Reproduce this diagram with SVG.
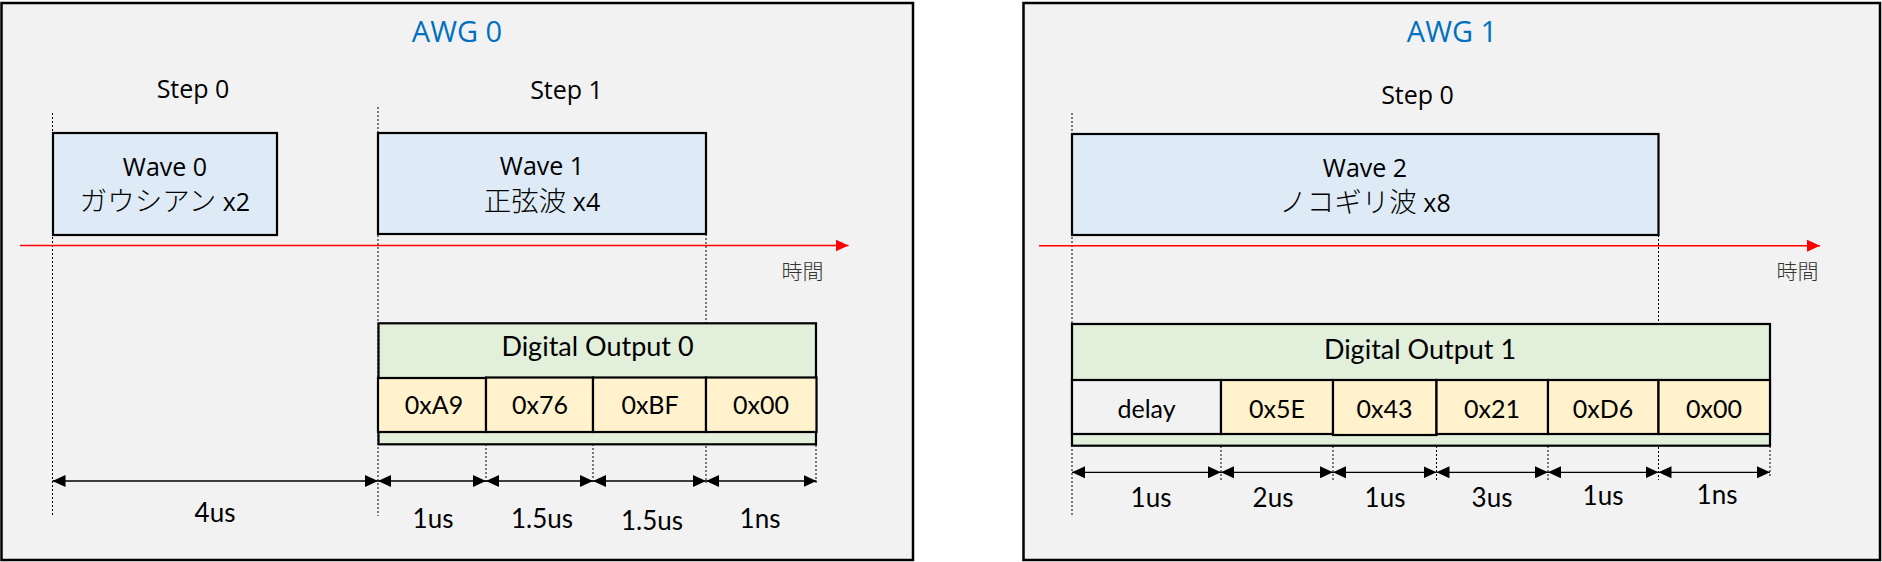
<svg xmlns="http://www.w3.org/2000/svg" width="1882" height="562" viewBox="0 0 1882 562">
<style>
.panel{fill:#F2F2F2;stroke:#000;stroke-width:2.5}
.wave{fill:#DEEBF7;stroke:#000;stroke-width:2.2}
.dout{fill:#E2EFDA;stroke:#000;stroke-width:2.2}
.hex{fill:#FFF2CC;stroke:#000;stroke-width:2.2}
.dly{fill:#F2F2F2;stroke:#000;stroke-width:2.2}
.seg{font-family:"Open Sans","Noto Sans","Noto Sans CJK JP",sans-serif;font-size:25px;fill:#000;text-anchor:middle}
.awg{font-family:"Open Sans","Noto Sans",sans-serif;font-size:29px;fill:#0070C0;text-anchor:middle}
.jp{font-family:"Noto Sans CJK JP",sans-serif;font-size:27.5px;font-weight:300}
.cal{font-family:Lato,"Liberation Sans",sans-serif;font-size:25px;fill:#000;text-anchor:middle}
.dl{font-family:Lato,"Liberation Sans",sans-serif;font-size:26px;fill:#000;text-anchor:middle}
.do{font-family:Lato,"Liberation Sans",sans-serif;font-size:27px;fill:#000;text-anchor:middle}
.time{font-family:"Noto Sans CJK JP",sans-serif;font-size:21px;font-weight:300;fill:#333333}
.tl{stroke:#FF0000;stroke-width:1.4;fill:none;marker-end:url(#ahr)}
.dim{stroke:#000;stroke-width:1.3;fill:none;marker-start:url(#ah);marker-end:url(#ah)}
.dot{stroke:#000;stroke-width:1;stroke-dasharray:2 2;fill:none}
</style>
<defs>
<marker id="ah" markerUnits="userSpaceOnUse" markerWidth="13" markerHeight="12" refX="13" refY="6" orient="auto-start-reverse"><path d="M0,0 L13,6 L0,12 z" fill="#000"/></marker>
<marker id="ahr" markerUnits="userSpaceOnUse" markerWidth="13" markerHeight="12" refX="13" refY="6" orient="auto"><path d="M0,0 L13,6 L0,12 z" fill="#FF0000"/></marker>
</defs>
<rect width="1882" height="562" fill="#FFFFFF"/>

<g id="awg0">
<rect class="panel" x="1.5" y="3" width="911.5" height="557"/>
<text class="awg" x="457" y="42">AWG 0</text>
<text class="seg" x="193" y="97.5">Step 0</text>
<text class="seg" x="566.5" y="99">Step 1</text>
<text class="time" x="781.5" y="279">時間</text>
</g>

<g id="awg1">
<rect class="panel" x="1023.5" y="3" width="856.5" height="557"/>
<text class="awg" x="1452" y="42">AWG 1</text>
<text class="seg" x="1417.5" y="104">Step 0</text>
<text class="time" x="1776.5" y="279">時間</text>
</g>

<g id="connectors">
<line class="dot" x1="52.5" y1="113" x2="52.5" y2="516"/>
<line class="dot" x1="378" y1="107" x2="378" y2="516"/>
<line class="dot" x1="486" y1="432" x2="486" y2="483"/>
<line class="dot" x1="593" y1="432" x2="593" y2="483"/>
<line class="dot" x1="706" y1="234" x2="706" y2="483"/>
<line class="dot" x1="816" y1="445" x2="816" y2="483"/>
<line class="dot" x1="1072" y1="113" x2="1072" y2="516"/>
<line class="dot" x1="1221" y1="434" x2="1221" y2="481"/>
<line class="dot" x1="1333" y1="434" x2="1333" y2="481"/>
<line class="dot" x1="1436.5" y1="434" x2="1436.5" y2="481"/>
<line class="dot" x1="1548" y1="434" x2="1548" y2="481"/>
<line class="dot" x1="1658.5" y1="235" x2="1658.5" y2="480"/>
<line class="dot" x1="1770" y1="446" x2="1770" y2="478"/>
<line class="tl" x1="20" y1="245.5" x2="848.5" y2="245.5"/>
<line class="tl" x1="1039" y1="245.7" x2="1820" y2="245.7"/>
<line class="dim" x1="52.5" y1="481" x2="378" y2="481"/>
<line class="dim" x1="378" y1="481" x2="486" y2="481"/>
<line class="dim" x1="486" y1="481" x2="593" y2="481"/>
<line class="dim" x1="593" y1="481" x2="706" y2="481"/>
<line class="dim" x1="706" y1="481" x2="816.5" y2="481"/>
<line class="dim" x1="1072" y1="472.3" x2="1221" y2="472.3"/>
<line class="dim" x1="1221" y1="472.3" x2="1333" y2="472.3"/>
<line class="dim" x1="1333" y1="472.3" x2="1436.5" y2="472.3"/>
<line class="dim" x1="1436.5" y1="472.3" x2="1548" y2="472.3"/>
<line class="dim" x1="1548" y1="472.3" x2="1658.5" y2="472.3"/>
<line class="dim" x1="1658.5" y1="472.3" x2="1770" y2="472.3"/>
</g>

<g id="dim-labels-0">
<text class="dl" x="215" y="522">4us</text>
<text class="dl" x="433" y="528">1us</text>
<text class="dl" x="542" y="528">1.5us</text>
<text class="dl" x="652" y="529.5">1.5us</text>
<text class="dl" x="760" y="528">1ns</text>
</g>
<g id="dim-labels-1">
<text class="dl" x="1151" y="506.5">1us</text>
<text class="dl" x="1273" y="506.5">2us</text>
<text class="dl" x="1385" y="506.5">1us</text>
<text class="dl" x="1492" y="506.5">3us</text>
<text class="dl" x="1603" y="505">1us</text>
<text class="dl" x="1717" y="504">1ns</text>
</g>

<g id="wave0">
<rect class="wave" x="53" y="133" width="224" height="102"/>
<text class="seg" x="165" y="175.5">Wave 0</text>
<text class="seg" x="165" y="211"><tspan class="jp">ガウシアン</tspan> x2</text>
</g>
<g id="wave1">
<rect class="wave" x="378" y="133" width="328" height="101"/>
<text class="seg" x="542" y="174.5">Wave 1</text>
<text class="seg" x="542" y="210.5"><tspan class="jp">正弦波</tspan> x4</text>
</g>
<g id="wave2">
<rect class="wave" x="1072" y="134" width="586.5" height="101"/>
<text class="seg" x="1365" y="176.5">Wave 2</text>
<text class="seg" x="1365" y="212"><tspan class="jp">ノコギリ波</tspan> x8</text>
</g>

<g id="digital-output-0">
<rect class="dout" x="378.5" y="323.3" width="437.5" height="121"/>
<text class="do" x="597.5" y="356">Digital Output 0</text>
</g>
<g id="do0-a9"><rect class="hex" x="378" y="378" width="108" height="54"/><text class="cal" x="434" y="413.5">0xA9</text></g>
<g id="do0-76"><rect class="hex" x="486" y="377.5" width="107" height="54.5"/><text class="cal" x="540" y="413.5">0x76</text></g>
<g id="do0-bf"><rect class="hex" x="593" y="377.5" width="113" height="54.5"/><text class="cal" x="650" y="413.5">0xBF</text></g>
<g id="do0-00"><rect class="hex" x="706" y="377.5" width="110.5" height="54.5"/><text class="cal" x="761" y="413.5">0x00</text></g>

<g id="digital-output-1">
<rect class="dout" x="1072" y="324" width="698" height="121.7"/>
<text class="do" x="1420" y="359.3">Digital Output 1</text>
</g>
<g id="do1-delay"><rect class="dly" x="1072" y="380" width="149" height="54"/><text class="cal" x="1146.5" y="417.5">delay</text></g>
<g id="do1-5e"><rect class="hex" x="1221" y="380" width="112" height="54"/><text class="cal" x="1277" y="417.5">0x5E</text></g>
<g id="do1-43"><rect class="hex" x="1333" y="380" width="103.5" height="55"/><text class="cal" x="1384.5" y="417.5">0x43</text></g>
<g id="do1-21"><rect class="hex" x="1436.5" y="380" width="111.5" height="54"/><text class="cal" x="1492" y="417.5">0x21</text></g>
<g id="do1-d6"><rect class="hex" x="1548" y="380" width="110.5" height="54"/><text class="cal" x="1603" y="417.5">0xD6</text></g>
<g id="do1-00"><rect class="hex" x="1658.5" y="380" width="111.5" height="54"/><text class="cal" x="1714" y="417.5">0x00</text></g>
</svg>
